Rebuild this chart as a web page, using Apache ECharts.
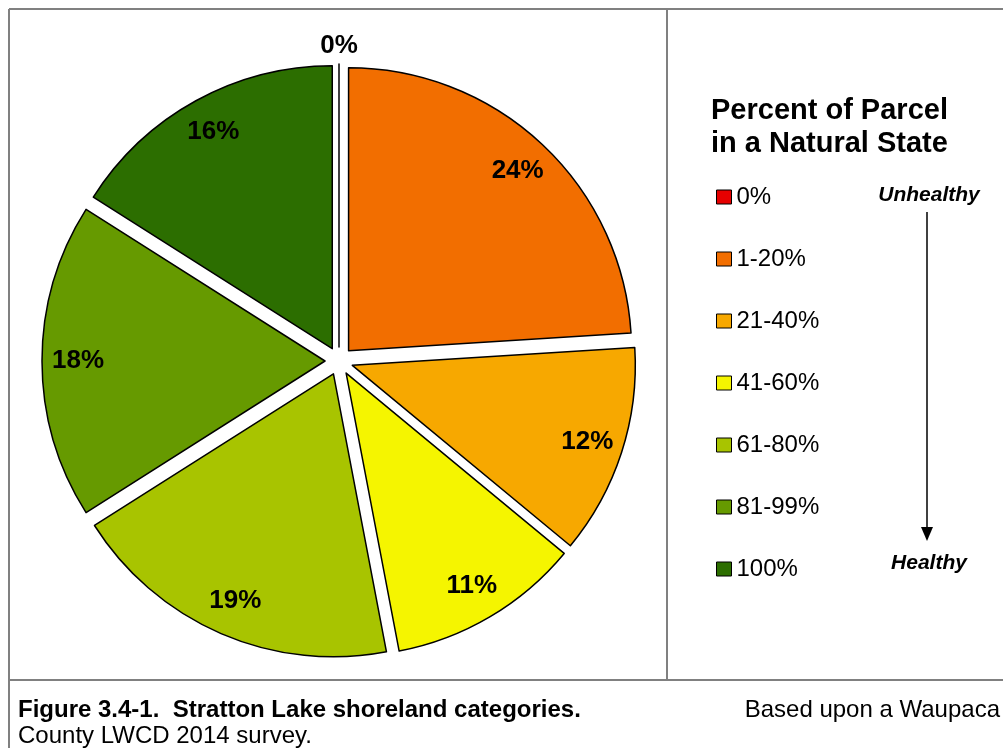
<!DOCTYPE html>
<html>
<head>
<meta charset="utf-8">
<title>Stratton Lake shoreland categories</title>
<script src="https://cdn.jsdelivr.net/npm/echarts@6/dist/echarts.min.js"></script>
<style>
  html, body { margin: 0; padding: 0; background: #fff; }
  #pie-chart { width: 1003px; height: 748px; }
</style>
</head>
<body>
<div id="pie-chart"></div>
<script>
// categories + values (percent of parcels)
var categories = ['0%', '1-20%', '21-40%', '41-60%', '61-80%', '81-99%', '100%'];
var shares = [0, 24, 12, 11, 19, 18, 16];
var sliceColors = ['#E60000', '#F26E00', '#F7A800', '#F5F500', '#A8C400', '#669A00', '#2C6E00'];
var legendTitle = 'Percent of Parcel\nin a Natural State';

var font = 'Liberation Sans, Arial, sans-serif';
var cx = 339, cy = 361, r = 283;

var mainData = categories.map(function (name, i) {
  return { name: name, value: shares[i], selected: true, itemStyle: { color: sliceColors[i] } };
});
// transparent copies only used to place the labels further out than 'inside'
var labelData = categories.map(function (name, i) {
  return { name: name, value: shares[i], label: { show: shares[i] > 0 } };
});
var zeroLabelData = categories.map(function (name, i) {
  return { name: name, value: shares[i], label: { show: shares[i] === 0 } };
});

var labelStyle = {
  position: 'inside',
  formatter: '{b|{c}%}',
  rich: { b: { fontFamily: font, fontWeight: 'bold', fontSize: 26, color: '#000' } }
};

var option = {
  animation: false,
  title: {
    text: legendTitle,
    left: 706,
    top: 89,
    textStyle: { fontFamily: font, fontWeight: 'bold', fontSize: 29, lineHeight: 33, color: '#000' }
  },
  legend: {
    orient: 'vertical',
    left: 711,
    top: 180,
    itemWidth: 15,
    itemHeight: 14,
    itemGap: 38,
    icon: 'rect',
    selectedMode: false,
    data: categories,
    itemStyle: { borderColor: '#000', borderWidth: 1 },
    textStyle: { fontFamily: font, fontSize: 24, lineHeight: 24, color: '#000' }
  },
  series: [
    {
      name: 'main',
      type: 'pie',
      center: [cx, cy],
      radius: [0, r],
      startAngle: 90,
      selectedMode: 'multiple',
      selectedOffset: 14,
      itemStyle: { borderColor: '#000', borderWidth: 1.5 },
      label: { show: false },
      labelLine: { show: false },
      emphasis: { disabled: true },
      data: mainData
    },
    {
      name: 'labels',
      type: 'pie',
      silent: true,
      center: [cx, cy],
      radius: [218, 298],
      startAngle: 90,
      itemStyle: { color: 'rgba(0,0,0,0)' },
      label: labelStyle,
      labelLine: { show: false },
      emphasis: { disabled: true },
      data: labelData
    },
    {
      name: 'zero-label',
      type: 'pie',
      silent: true,
      center: [cx, cy],
      radius: [295, 329],
      startAngle: 90,
      itemStyle: { color: 'rgba(0,0,0,0)' },
      label: labelStyle,
      labelLine: { show: false },
      emphasis: { disabled: true },
      data: zeroLabelData
    }
  ],
  graphic: [
    // frame of the figure box
    { type: 'line', shape: { x1: 9, y1: 9, x2: 1003, y2: 9 }, style: { stroke: '#808080', lineWidth: 2 } },
    { type: 'line', shape: { x1: 9, y1: 9, x2: 9, y2: 748 }, style: { stroke: '#808080', lineWidth: 2 } },
    { type: 'line', shape: { x1: 667, y1: 9, x2: 667, y2: 680 }, style: { stroke: '#808080', lineWidth: 2 } },
    { type: 'line', shape: { x1: 9, y1: 680, x2: 1003, y2: 680 }, style: { stroke: '#808080', lineWidth: 2 } },
    // unhealthy -> healthy arrow
    { type: 'text', x: 929, y: 195, style: { text: 'Unhealthy', font: 'italic bold 21px ' + font, fill: '#000', align: 'center', verticalAlign: 'middle' } },
    { type: 'text', x: 929, y: 563, style: { text: 'Healthy', font: 'italic bold 21px ' + font, fill: '#000', align: 'center', verticalAlign: 'middle' } },
    { type: 'line', shape: { x1: 927, y1: 212, x2: 927, y2: 530 }, style: { stroke: '#000', lineWidth: 1.5 } },
    { type: 'polygon', shape: { points: [[921, 527], [933, 527], [927, 541]] }, style: { fill: '#000' } },
    // caption
    { type: 'text', x: 18, y: 710, style: { text: 'Figure 3.4-1.  Stratton Lake shoreland categories.', font: 'bold 24px ' + font, fill: '#000', verticalAlign: 'middle' } },
    { type: 'text', x: 1000, y: 710, style: { text: 'Based upon a Waupaca', font: '24px ' + font, fill: '#000', align: 'right', verticalAlign: 'middle' } },
    { type: 'text', x: 18, y: 736, style: { text: 'County LWCD 2014 survey.', font: '24px ' + font, fill: '#000', verticalAlign: 'middle' } }
  ]
};

var piechart = echarts.init(document.getElementById('pie-chart'));
piechart.setOption(option);
</script>
</body>
</html>
